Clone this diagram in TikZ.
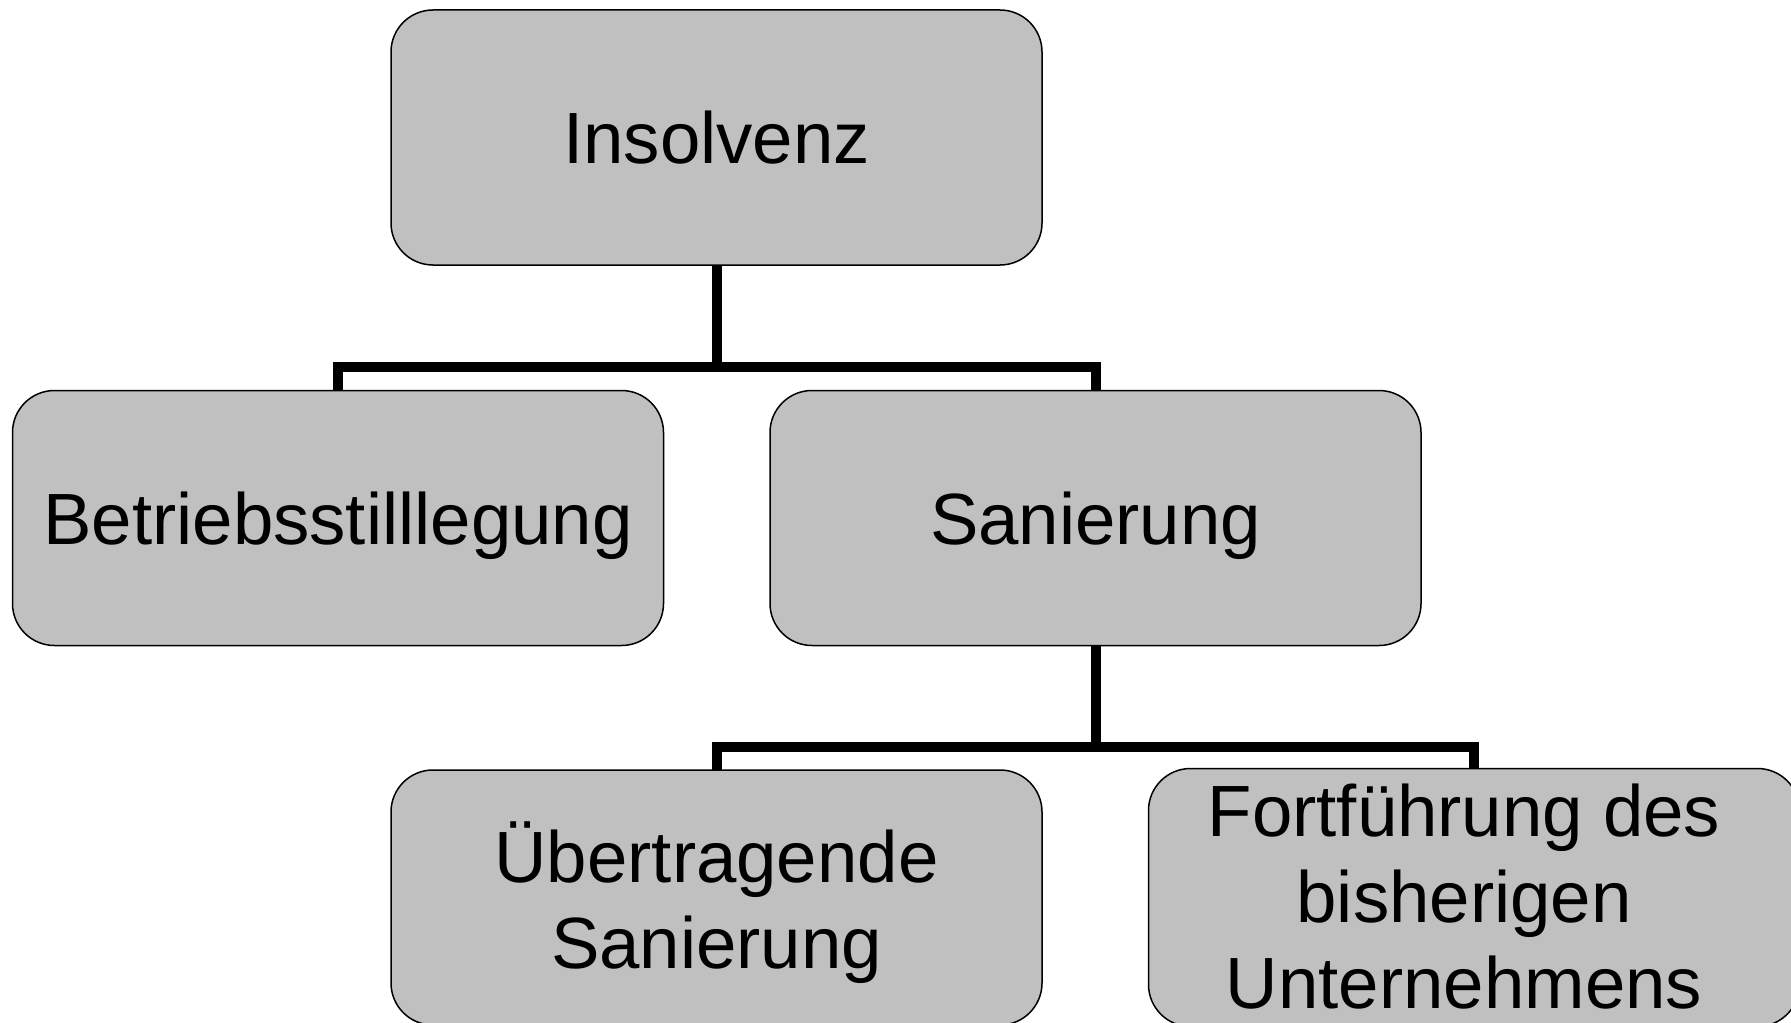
\documentclass[tikz,border=0pt]{standalone}
\usepackage{fontspec}
\setmainfont{Liberation Sans}
\definecolor{boxgray}{HTML}{C0C0C0}
\newcommand{\mylines}[1]{\begin{tabular}{@{}c@{}}#1\end{tabular}}
\newcommand{\lowered}[2]{\raisebox{-#1}[\height][\depth]{#2}}
\begin{document}
\begin{tikzpicture}[x=0.5pt,y=-0.5pt,
  box/.style={draw=black, line width=0.75pt, fill=boxgray, rounded corners=21pt,
    minimum width=325.5pt, minimum height=127.5pt, inner sep=0pt, outer sep=0pt,
    align=center, font=\fontsize{36.3}{43}\selectfont},
  conn/.style={draw=black, line width=5pt, line join=miter}]
\useasboundingbox (0,0) rectangle (1791,1022);
\clip (0,0) rectangle (1791,1022);
\fill[white] (0,0) rectangle (1791,1022);
\node[box] (ins) at (716.5,137.5) {Insolvenz};
\node[box] (bet) at (338,518) {\lowered{4pt}{Betriebsstilllegung}};
\node[box] (san) at (1095.5,518) {\lowered{4pt}{Sanierung}};
\node[box] (ueb) at (716.5,897.5) {\lowered{5.4pt}{\mylines{Übertragende\\Sanierung}}};
\node[box] (fort) at (1474,897.5) {\hspace*{-10pt}\lowered{4pt}{\mylines{Fortführung des\\bisherigen\\Unternehmens}}};
\coordinate (j1) at (716.5,367);
\coordinate (j2) at (1095.5,747);
\draw[conn] (ins.south) -- (j1);
\draw[conn] (bet.north) |- (j1) -| (san.north);
\draw[conn] (san.south) -- (j2);
\draw[conn] (ueb.north) |- (j2) -| (fort.north);
\end{tikzpicture}
\end{document}
